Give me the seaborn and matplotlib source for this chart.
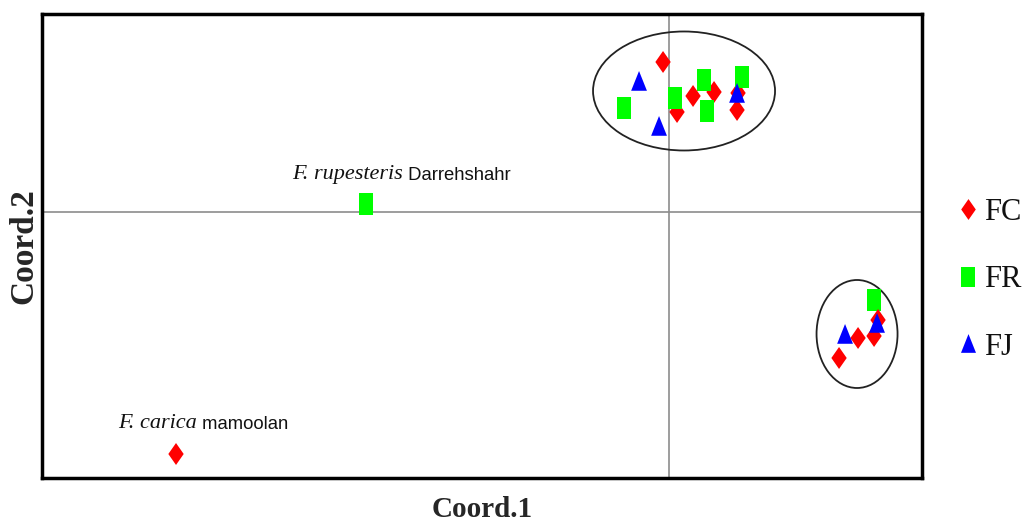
import pandas as pd
import matplotlib.pyplot as plt
import seaborn as sns
from matplotlib.lines import Line2D
from matplotlib.patches import Ellipse

# Coordinates (arbitrary PCoA units)
groups = ['FC'] * 6 + ['FR'] * 5 + ['FJ'] * 3 + ['FR'] + ['FC'] * 4 + ['FJ'] * 2 + ['FR', 'FC']
coord1 = [-0.03, 0.04, 0.12, 0.225, 0.345, 0.34,
          -0.225, 0.03, 0.175, 0.19, 0.365,
          -0.15, -0.05, 0.34,
          1.025,
          1.045, 1.025, 0.945, 0.85,
          1.04, 0.88,
          -1.515, -2.465]
coord2 = [0.75, 0.50, 0.58, 0.60, 0.595, 0.51,
          0.52, 0.57, 0.66, 0.505, 0.675,
          0.65, 0.425, 0.59,
          -0.44,
          -0.54, -0.62, -0.63, -0.73,
          -0.56, -0.615,
          0.04, -1.21]

# cluster ellipses: centre x, centre y, width, height
cluster_x = [0.075, 0.94]
cluster_y = [0.605, -0.61]
cluster_w = [0.91, 0.405]
cluster_h = [0.595, 0.54]

# labelled accessions (index into the arrays above)
label_idx = [21, 22]
label_species = ['F. rupesteris', 'F. carica']
label_site = [' Darrehshahr', ' mamoolan']

legend_order = ['FC', 'FR', 'FJ']
palette = {'FC': '#ff0000', 'FR': '#00ff00', 'FJ': '#0000ff'}
markers = {
    'FC': [(0, 1), (0.7, 0), (0, -1), (-0.7, 0)],
    'FR': [(-0.66, -1), (0.66, -1), (0.66, 1), (-0.66, 1)],
    'FJ': [(-0.72, -0.8), (0.72, -0.8), (0, 1)],
}

df = pd.DataFrame({'Coord.1': coord1, 'Coord.2': coord2, 'Group': groups})

sns.set_style('white')
plt.rcParams['font.family'] = ['Liberation Serif', 'DejaVu Serif']

fig = plt.figure(figsize=(10.22, 5.22), dpi=100)
ax = fig.add_axes([0.0411, 0.0843, 0.8611, 0.8889])

ax.axhline(0, color='#8c8c8c', lw=1.2, zorder=1)
ax.axvline(0, color='#8c8c8c', lw=1.2, zorder=1)

sns.scatterplot(data=df, x='Coord.1', y='Coord.2', hue='Group', style='Group',
                palette=palette, markers=markers, s=250, linewidth=0,
                legend=False, ax=ax, zorder=3)

for cx, cy, w, h in zip(cluster_x, cluster_y, cluster_w, cluster_h):
    ax.add_patch(Ellipse((cx, cy), w, h, fill=False, ec='#222222', lw=1.3, zorder=2))

offsets = [(-74, 20), (-58, 21)]
for i, sp, site, off in zip(label_idx, label_species, label_site, offsets):
    t1 = ax.annotate(sp, xy=(coord1[i], coord2[i]), xytext=off, textcoords='offset pixels',
                     ha='left', va='bottom', fontsize=16, style='italic',
                     family='Liberation Serif', color='#111111')
    ax.annotate(site, xy=(1, 0), xycoords=t1, ha='left', va='bottom',
                fontsize=13.3, family='Liberation Sans', color='#111111')

ax.set_xlim(-3.135, 1.265)
ax.set_ylim(-1.33, 0.99)
ax.set_xticks([])
ax.set_yticks([])
ax.set_xlabel('Coord.1', fontsize=21, fontweight='bold', labelpad=13)
ax.set_ylabel('Coord.2', fontsize=24, fontweight='bold', labelpad=2)
for s in ax.spines.values():
    s.set_visible(True)
    s.set_color('black')
    s.set_linewidth(2.5)

handles = [Line2D([], [], ls='', marker=markers[g], color=palette[g], markersize=15,
                  markeredgewidth=0) for g in legend_order]
ax.legend(handles, legend_order, loc='center left', bbox_to_anchor=(1.025, 0.427),
          frameon=False, fontsize=22, handlelength=0.6, handletextpad=0.2,
          labelspacing=1.27, borderpad=0, labelcolor='#111111')

plt.savefig('out.png', dpi=100)
